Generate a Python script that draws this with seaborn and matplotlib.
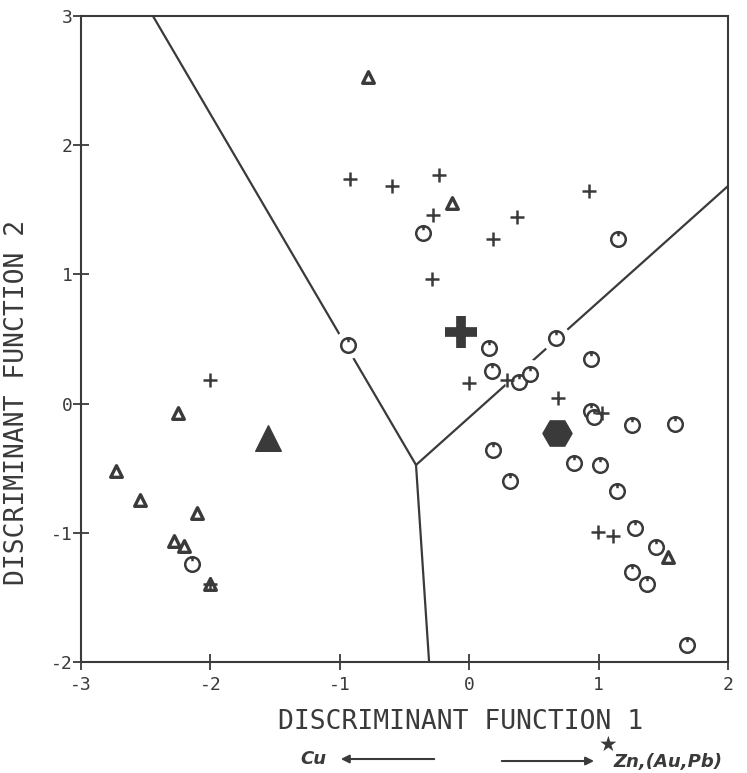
import numpy as np
import pandas as pd
import matplotlib
matplotlib.use("Agg")
import matplotlib.pyplot as plt
from matplotlib.path import Path
import seaborn as sns

# ---------------- data ----------------
circle_x = [-0.360, 1.152, -0.934, 0.156, 0.671, 0.179, 0.387, 0.470, 0.941, 0.939,
            0.964, 1.256, 1.590, 0.186, 0.315, 0.810, 1.011, 1.139, 1.281, 1.444,
            1.256, 1.376, 1.681, -2.140]
circle_y = [1.318, 1.272, 0.454, 0.433, 0.505, 0.252, 0.170, 0.229, 0.343, -0.060,
            -0.106, -0.166, -0.160, -0.359, -0.599, -0.462, -0.475, -0.674, -0.960, -1.107,
            -1.301, -1.399, -1.868, -1.241]

plus_x = [-0.921, -0.594, -0.231, -0.283, 0.186, 0.372, 0.926, -0.290, 0.001, 0.290,
          0.689, 1.023, 0.998, 1.108, -2.006, -2.006]
plus_y = [1.736, 1.684, 1.769, 1.460, 1.274, 1.442, 1.646, 0.964, 0.157, 0.183,
          0.041, -0.070, -0.994, -1.022, 0.183, -1.396]

tri_x = [-0.782, -0.133, -2.248, -2.732, -2.544, -2.101, -2.281, -2.206, -2.006, 1.539]
tri_y = [2.528, 1.553, -0.070, -0.522, -0.746, -0.844, -1.064, -1.100, -1.396, -1.185]

centroid_plus = ([-0.063], [0.554])
centroid_tri = ([-1.555], [-0.266])
centroid_hex = ([0.682], [-0.228])

boundary_a_x = [-2.444, -0.411]
boundary_a_y = [3.0, -0.475]
boundary_b_x = [-0.411, -0.310]
boundary_b_y = [-0.475, -2.0]
boundary_c_x = [-0.411, 2.0]
boundary_c_y = [-0.475, 1.684]

x_ticks = [-3, -2, -1, 0, 1, 2]
y_ticks = [-2, -1, 0, 1, 2, 3]

# ---------------- style ----------------
sns.set_style("ticks")
plt.rcParams['font.family'] = ['DejaVu Sans Mono', 'DejaVu Sans']
INK = "#3a3a3a"

fig = plt.figure(figsize=(7.47, 7.73), dpi=100)
ax = fig.add_axes([0.1084, 0.1436, 0.8662, 0.8357])

# boundary lines
for bx, by in [(boundary_a_x, boundary_a_y), (boundary_b_x, boundary_b_y), (boundary_c_x, boundary_c_y)]:
    sns.lineplot(x=bx, y=by, sort=False, ax=ax, color=INK, linewidth=1.6, zorder=1)

# circle marker with small tick at top
circ = Path.unit_circle()
tick = Path([(0, 1.0), (0, 0.45)], [Path.MOVETO, Path.LINETO])
clock_marker = Path.make_compound_path(circ, tick)

# white halos around circles (gaps in the lines)
sns.scatterplot(x=circle_x, y=circle_y, ax=ax, marker="o", s=420,
                facecolor="white", edgecolor="none", linewidth=0, zorder=2)

sns.scatterplot(x=circle_x, y=circle_y, ax=ax, marker=clock_marker, s=110,
                facecolor="white", edgecolor=INK, linewidth=1.8, zorder=4)
sns.scatterplot(x=tri_x, y=tri_y, ax=ax, marker="^", s=70,
                facecolor="white", edgecolor=INK, linewidth=2.4, zorder=4)
sns.scatterplot(x=plus_x, y=plus_y, ax=ax, marker="+", s=110,
                color=INK, linewidth=1.8, zorder=5)

# group centroids
sns.scatterplot(x=centroid_plus[0], y=centroid_plus[1], ax=ax, marker="+", s=500,
                color=INK, linewidth=7.0, zorder=5)
sns.scatterplot(x=centroid_tri[0], y=centroid_tri[1], ax=ax, marker="^", s=340,
                facecolor=INK, edgecolor=INK, linewidth=1, zorder=5)
sns.scatterplot(x=centroid_hex[0], y=centroid_hex[1], ax=ax, marker="H", s=440,
                facecolor=INK, edgecolor=INK, linewidth=1, zorder=5)

ax.set_xlim(-3, 2)
ax.set_ylim(-2, 3)
ax.set_xticks(x_ticks)
ax.set_yticks(y_ticks)
ax.set_xticklabels([f"{t}" for t in x_ticks])
ax.set_yticklabels([f"{t}" for t in y_ticks])
ax.tick_params(direction="inout", length=12, width=1.3, colors=INK, labelsize=13)
ax.tick_params(axis="y", pad=0)
ax.tick_params(axis="x", pad=4)
for sp in ax.spines.values():
    sp.set_visible(True)
    sp.set_color(INK)
    sp.set_linewidth(1.5)

ax.set_xlabel("DISCRIMINANT FUNCTION 1", fontsize=19, color=INK)
ax.set_ylabel("DISCRIMINANT FUNCTION 2", fontsize=19, color=INK)
ax.xaxis.set_label_coords(0.586, -0.072)
ax.yaxis.set_label_coords(-0.079, 0.402)

# bottom annotation
fig.text(0.4016, 0.0181, "Cu", fontsize=13, fontweight="bold", fontstyle="italic",
         family=["DejaVu Sans"], color=INK, va="center", ha="left")
ax.annotate("", xy=(0.4525, 0.0181), xytext=(0.585, 0.0181), xycoords="figure fraction",
            textcoords="figure fraction",
            arrowprops=dict(arrowstyle="-|>", lw=1.5, color=INK, mutation_scale=12))
ax.annotate("", xy=(0.799, 0.0155), xytext=(0.668, 0.0155), xycoords="figure fraction",
            textcoords="figure fraction",
            arrowprops=dict(arrowstyle="-|>", lw=1.5, color=INK, mutation_scale=12))
fig.text(0.814, 0.0362, "★", fontsize=15, family=["DejaVu Sans"], color=INK,
         va="center", ha="center")
fig.text(0.8206, 0.0142, "Zn,(Au,Pb)", fontsize=13, fontweight="bold", fontstyle="italic",
         family=["DejaVu Sans"], color=INK, va="center", ha="left")

fig.savefig("out.png", dpi=100)
